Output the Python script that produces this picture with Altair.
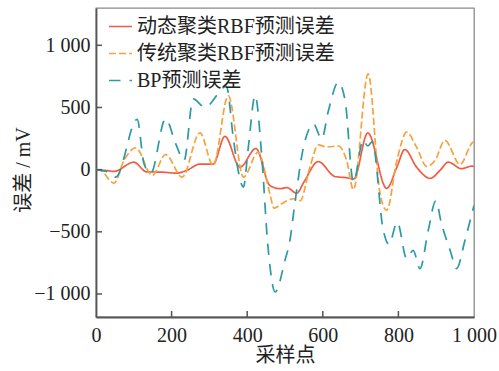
import altair as alt
import pandas as pd

# ---- data ----
red_x = [0, 30, 48, 100, 134, 175, 213, 240, 275, 310, 341, 381, 423, 460, 487, 505, 531, 550, 588, 632, 663, 682, 719, 769, 796, 817, 848, 884, 910, 932, 967, 994, 1000]
red_y = [0, -8, -14, 60, -18, -20, -28, -6, 45, 45, 267, 20, 170, -127, -153, -145, -190, -100, 65, -55, -65, -75, 295, -150, 20, 162, 20, -70, -6, 60, 8, 28, 25]

org_x = [0, 12, 48, 74, 105, 149, 184, 228, 275, 310, 350, 390, 429, 460, 471, 491, 522, 540, 566, 588, 610, 641, 663, 681, 720, 751, 769, 796, 822, 848, 875, 897, 923, 963, 998, 1000]
org_y = [0, -6, -108, 74, 176, -47, 122, -60, 296, 34, 595, -60, 140, -194, -310, -274, -234, -250, 20, 200, 182, 190, 74, -161, 770, -181, -328, 74, 301, 181, 26, 74, 235, 42, 221, 222]

bp_x = [0, 40, 52, 109, 127, 145, 184, 211, 233, 257, 288, 345, 363, 376, 390, 403, 421, 438, 455, 474, 500, 513, 526, 548, 562, 575, 597, 615, 641, 659, 681, 707, 719, 731, 760, 775, 797, 822, 839, 857, 879, 899, 914, 937, 954, 976, 1000]
bp_y = [0, -30, -60, 405, 47, -28, 409, 208, 74, 569, 502, 670, 261, -6, -140, 181, 596, 128, -622, -984, -729, -569, -274, 168, 315, 369, 248, 475, 703, 556, -100, 238, 190, 226, -488, -600, -422, -716, -649, -796, -488, -250, -435, -650, -796, -569, -288]

names = ["动态聚类RBF预测误差", "传统聚类RBF预测误差", "BP预测误差"]
colors = ["#EF5B45", "#F7A23A", "#2A9AA6"]
dashes = [[1, 0], [7, 3], [11.5, 9]]

x_ticks = [200, 400, 600, 800]
y_ticks = [-1000, -500, 0, 500, 1000]

rows = []
for name, xs, ys in zip(names, [red_x, org_x, bp_x], [red_y, org_y, bp_y]):
    for i, (a, b) in enumerate(zip(xs, ys)):
        rows.append({"series": name, "x": a, "y": b, "order": i})
df = pd.DataFrame(rows)

W, H = 378, 309
FONT = "Liberation Serif, Noto Sans CJK SC"

xscale = alt.Scale(domain=[0, 1000], nice=False, zero=False)
yscale = alt.Scale(domain=[-1185, 1300], nice=False, zero=False)

leg = alt.Legend(title=None, orient="none", legendX=12, legendY=6,
                 symbolType="stroke", symbolSize=529, symbolStrokeWidth=1.7,
                 labelFontSize=20, labelFont=FONT, labelOffset=4,
                 rowPadding=4, padding=0, labelLimit=400)

lines = alt.Chart(df).mark_line(interpolate="monotone", strokeWidth=1.7, clip=True).encode(
    x=alt.X("x:Q", scale=xscale,
            axis=alt.Axis(values=[0, 200, 400, 600, 800, 1000], title="采样点", grid=False,
                          ticks=False, labelPadding=8, titleY=38, titleBaseline="middle",
                          labelFlush=False, labelOverlap=False,
                          labelExpr="replace(format(datum.value, ','), ',', ' ')")),
    y=alt.Y("y:Q", scale=yscale,
            axis=alt.Axis(values=y_ticks, title="误差 / mV", grid=False, ticks=False,
                          labelPadding=6, titleX=-73, titleY=H / 2 + 7, titleAngle=-90,
                          titleAlign="center", titleBaseline="middle",
                          labelFlush=False, labelOverlap=False,
                          labelExpr="replace(format(datum.value, ','), ',', ' ')")),
    color=alt.Color("series:N", scale=alt.Scale(domain=names, range=colors), legend=leg),
    strokeDash=alt.StrokeDash("series:N", scale=alt.Scale(domain=names, range=dashes), legend=leg),
    order="order:Q",
)

xt = alt.Chart(pd.DataFrame({"t": x_ticks})).mark_rule(color="#555", strokeWidth=1.5).encode(
    x=alt.X("t:Q", scale=xscale), y=alt.value(H), y2=alt.value(H - 6))
yt = alt.Chart(pd.DataFrame({"t": y_ticks})).mark_rule(color="#555", strokeWidth=1.5).encode(
    y=alt.Y("t:Q", scale=yscale), x=alt.value(0), x2=alt.value(6))

chart = alt.layer(lines, xt, yt).properties(
    width=W, height=H,
    autosize=alt.AutoSizeParams(type="none"),
    padding={"left": 96, "top": 8, "right": 25, "bottom": 54},
).configure_view(stroke="#8a8a8a", strokeWidth=1.3).configure_axis(
    domainColor="#555", domainWidth=1.8,
    labelFont=FONT, labelFontSize=20, labelColor="#222",
    titleFont=FONT, titleFontSize=20, titleColor="#222", titleFontWeight="normal",
).configure_legend(labelColor="#222")

chart.save("out.html", embed_options={"renderer": "svg", "actions": False})
